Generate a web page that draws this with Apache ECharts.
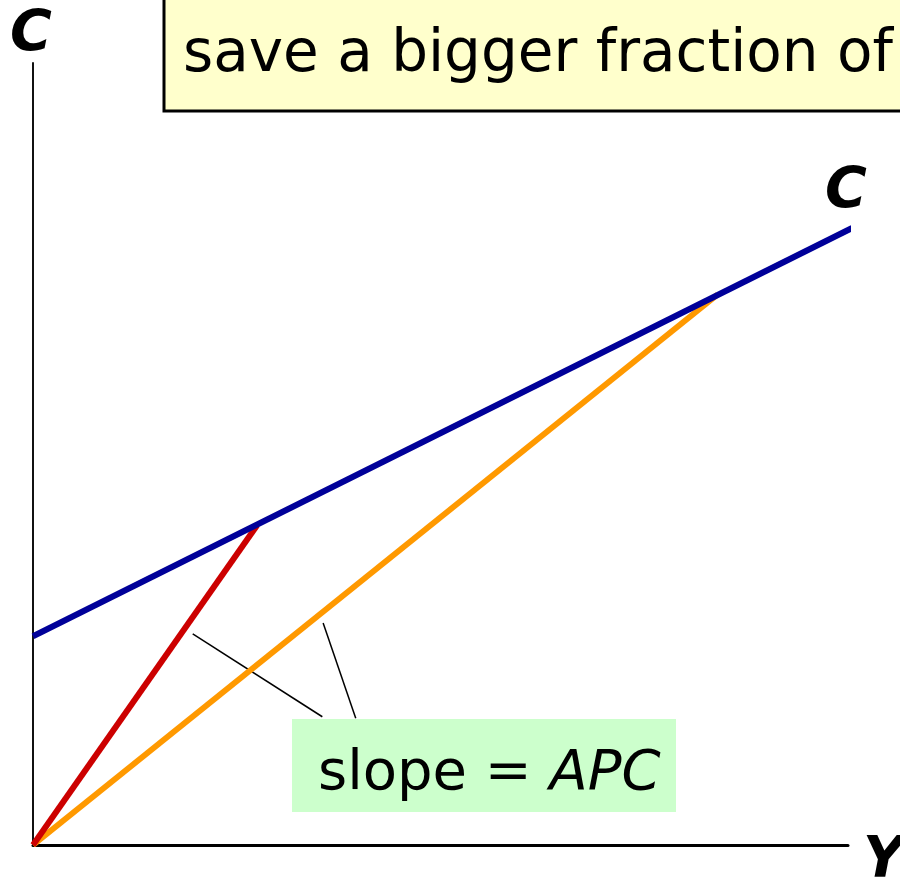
<!DOCTYPE html>
<html>
<head>
<meta charset="utf-8">
<script src="https://cdn.jsdelivr.net/npm/echarts@6/dist/echarts.min.js"></script>
<style>
  html, body { margin: 0; padding: 0; background: #fff; }
  #chart { width: 900px; height: 887px; }
</style>
</head>
<body>
<div id="chart"></div>
<script>
// consumption function C = a + bY (0..100 scale)
const consumptionX = [0, 100.5];
const consumptionY = [26.7, 78.9];
// ray from origin to a low-income point (high APC)
const rayLowX = [0, 27.5];
const rayLowY = [0, 40.9];
// ray from origin to a high-income point (lower APC)
const rayHighX = [0, 84.0];
const rayHighY = [0, 70.4];
// leader lines from the label to the two rays
const leader1X = [19.6, 35.5];
const leader1Y = [27.0, 16.4];
const leader2X = [35.6, 39.6];
const leader2Y = [28.4, 16.2];

const zip = (xs, ys) => xs.map((x, i) => [x, ys[i]]);

const font = "DejaVu Sans, Verdana, sans-serif";

const chart = echarts.init(document.getElementById("chart"));

const lineSeries = (xs, ys, color, width) => ({
  type: "line",
  data: zip(xs, ys),
  symbol: "none",
  clip: false,
  lineStyle: { color, width },
});

const options = {
  animation: false,
  grid: { left: 33, right: 52, top: 63, bottom: 42 },
  xAxis: {
    type: "value",
    min: 0,
    max: 100,
    axisLine: { show: true, onZero: false, lineStyle: { color: "#000", width: 3 } },
    axisTick: { show: false },
    axisLabel: { show: false },
    splitLine: { show: false },
  },
  yAxis: {
    type: "value",
    min: 0,
    max: 100,
    axisLine: { show: true, onZero: false, lineStyle: { color: "#111", width: 2 } },
    axisTick: { show: false },
    axisLabel: { show: false },
    splitLine: { show: false },
  },
  series: [
    lineSeries(leader1X, leader1Y, "#000", 1.5),
    lineSeries(leader2X, leader2Y, "#000", 1.5),
    lineSeries(rayHighX, rayHighY, "#FF9900", 6),
    lineSeries(rayLowX, rayLowY, "#CC0000", 6),
    lineSeries(consumptionX, consumptionY, "#000099", 6),
  ],
  graphic: [
    // yellow note box at the top
    {
      type: "rect",
      shape: { x: 164, y: -10, width: 760, height: 121 },
      style: { fill: "#FFFFCC", stroke: "#000", lineWidth: 3 },
      z: 10,
    },
    {
      type: "text",
      x: 183,
      y: 27,
      style: {
        text: "save a bigger fraction of",
        font: "58px " + font,
        fill: "#000",
        verticalAlign: "top",
      },
      z: 11,
    },
    // green label box
    {
      type: "rect",
      shape: { x: 292, y: 719, width: 384, height: 93 },
      style: { fill: "#CCFFCC" },
      z: 10,
    },
    {
      type: "text",
      x: 318,
      y: 746,
      style: {
        text: "{n|slope = }{i|APC}",
        verticalAlign: "top",
        rich: {
          n: { font: "56px " + font, fill: "#000" },
          i: { font: "italic 56px " + font, fill: "#000" },
        },
      },
      z: 11,
    },
    // axis names
    {
      type: "text",
      x: 10,
      y: 8,
      style: { text: "C", font: "italic bold 57px " + font, fill: "#000", verticalAlign: "top" },
    },
    {
      type: "text",
      x: 825,
      y: 165,
      style: { text: "C", font: "italic bold 57px " + font, fill: "#000", verticalAlign: "top" },
    },
    {
      type: "text",
      x: 863,
      y: 834,
      style: { text: "Y", font: "italic bold 57px " + font, fill: "#000", verticalAlign: "top" },
    },
  ],
};

chart.setOption(options);
</script>
</body>
</html>
